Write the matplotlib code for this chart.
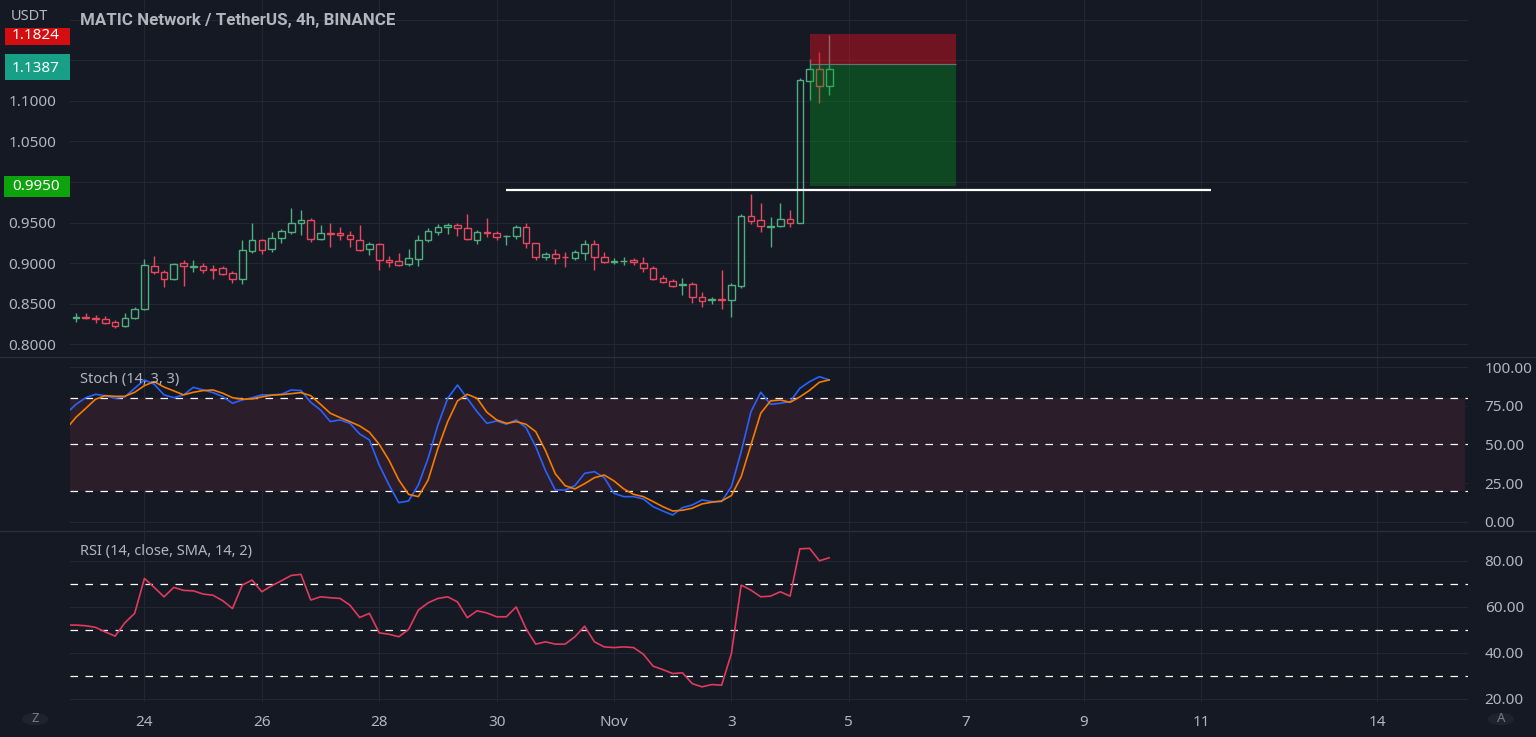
import matplotlib
matplotlib.use('Agg')
import matplotlib.pyplot as plt
import matplotlib.dates as mdates
from matplotlib.patches import Rectangle, Circle
from matplotlib.lines import Line2D
import pandas as pd

# ---------------- data ----------------
start = pd.Timestamp('2022-10-22 20:00')
times = pd.date_range(start, periods=78, freq='4h')
ind_times = pd.date_range(start - pd.Timedelta(hours=4), periods=79, freq='4h')

opens = [0.833, 0.8335, 0.832, 0.831, 0.827, 0.822, 0.833, 0.843, 0.897, 0.889,
         0.880, 0.900, 0.895, 0.897, 0.893, 0.8936, 0.8875, 0.8805, 0.915, 0.9285,
         0.917, 0.9306, 0.9387, 0.950, 0.953, 0.930, 0.937, 0.937, 0.935, 0.929,
         0.917, 0.923, 0.904, 0.9026, 0.899, 0.9055, 0.928, 0.939, 0.944, 0.947,
         0.943, 0.9285, 0.938, 0.9375, 0.933, 0.9334, 0.944, 0.9244, 0.907, 0.911,
         0.908, 0.906, 0.913, 0.9236, 0.907, 0.902, 0.9025, 0.904, 0.9006, 0.8936,
         0.882, 0.878, 0.873, 0.874, 0.858, 0.855, 0.856, 0.8546, 0.872, 0.958,
         0.953, 0.945, 0.946, 0.955, 0.950, 1.125, 1.139, 1.1186]
highs = [0.838, 0.839, 0.836, 0.835, 0.830, 0.838, 0.846, 0.905, 0.909, 0.891,
         0.900, 0.904, 0.904, 0.900, 0.8977, 0.897, 0.890, 0.928, 0.949, 0.930,
         0.938, 0.942, 0.968, 0.965, 0.956, 0.947, 0.949, 0.945, 0.940, 0.947,
         0.926, 0.925, 0.909, 0.912, 0.917, 0.935, 0.943, 0.948, 0.950, 0.949,
         0.9605, 0.941, 0.956, 0.940, 0.935, 0.947, 0.949, 0.925, 0.914, 0.917,
         0.914, 0.916, 0.929, 0.929, 0.914, 0.906, 0.907, 0.906, 0.908, 0.896,
         0.885, 0.880, 0.882, 0.877, 0.865, 0.858, 0.892, 0.875, 0.960, 0.985,
         0.9745, 0.957, 0.974, 0.966, 1.128, 1.151, 1.1605, 1.181]
lows = [0.827, 0.8315, 0.8265, 0.825, 0.820, 0.821, 0.831, 0.842, 0.887, 0.871,
        0.879, 0.872, 0.8887, 0.888, 0.880, 0.886, 0.876, 0.874, 0.913, 0.911,
        0.914, 0.925, 0.936, 0.935, 0.926, 0.928, 0.920, 0.928, 0.920, 0.915,
        0.910, 0.891, 0.895, 0.896, 0.897, 0.8965, 0.926, 0.935, 0.936, 0.934,
        0.928, 0.9236, 0.932, 0.929, 0.922, 0.930, 0.919, 0.904, 0.904, 0.899,
        0.895, 0.904, 0.904, 0.892, 0.900, 0.899, 0.898, 0.898, 0.889, 0.879,
        0.876, 0.871, 0.861, 0.851, 0.846, 0.850, 0.844, 0.834, 0.870, 0.948,
        0.9387, 0.920, 0.945, 0.945, 0.949, 1.101, 1.097, 1.107]
closes = [0.8335, 0.832, 0.831, 0.826, 0.822, 0.833, 0.843, 0.898, 0.889, 0.880,
          0.899, 0.896, 0.896, 0.8915, 0.892, 0.8866, 0.8805, 0.916, 0.9285, 0.916,
          0.9306, 0.9396, 0.950, 0.953, 0.930, 0.937, 0.936, 0.935, 0.9294, 0.916,
          0.923, 0.904, 0.902, 0.8977, 0.906, 0.928, 0.9396, 0.944, 0.947, 0.943,
          0.9294, 0.938, 0.937, 0.932, 0.934, 0.944, 0.9244, 0.908, 0.911, 0.906,
          0.907, 0.9133, 0.9236, 0.907, 0.901, 0.903, 0.903, 0.902, 0.8936, 0.8805,
          0.877, 0.872, 0.874, 0.858, 0.854, 0.856, 0.855, 0.8727, 0.958, 0.9523,
          0.946, 0.946, 0.955, 0.950, 1.126, 1.139, 1.1186, 1.1387]

stoch_k = [70.0,
           76.0, 80.3, 82.5, 81.6, 79.9, 80.8, 86.4, 91.8, 89.0, 82.1,
           80.3, 82.1, 87.0, 85.3, 83.6, 81.0, 76.7, 78.8, 80.3, 82.1,
           82.1, 82.5, 85.3, 84.9, 77.3, 72.3, 64.8, 65.9, 63.7, 56.8,
           52.9, 36.7, 23.8, 12.3, 13.4, 23.8, 41.1, 62.6, 79.9, 88.5,
           79.9, 71.2, 63.7, 65.2, 63.1, 65.9, 60.9, 48.6, 33.0, 20.5,
           20.5, 23.3, 31.3, 32.4, 28.5, 18.4, 16.2, 16.2, 14.7, 9.7,
           6.9, 4.3, 9.1, 10.8, 14.1, 13.0, 13.0, 22.7, 45.3, 71.2,
           83.8, 76.0, 76.7, 77.7, 86.4, 90.7, 93.9, 91.8]
stoch_d = [60.0,
           67.6, 73.4, 79.3, 81.6, 81.2, 81.2, 83.8, 88.1, 90.7, 87.2,
           84.7, 82.1, 83.8, 84.9, 85.3, 83.2, 80.3, 79.3, 79.5, 80.8,
           81.9, 82.3, 82.9, 83.6, 81.6, 76.0, 70.2, 67.4, 64.8, 62.0,
           57.9, 50.1, 39.8, 27.0, 17.7, 16.2, 27.0, 47.5, 64.8, 78.2,
           82.5, 79.9, 70.9, 65.9, 63.7, 64.8, 63.1, 58.3, 46.0, 31.0,
           23.3, 21.2, 24.6, 28.5, 30.2, 26.4, 21.2, 17.7, 16.2, 13.0,
           9.7, 6.9, 7.4, 8.7, 11.5, 12.6, 13.4, 16.9, 29.1, 49.7,
           70.2, 78.2, 78.8, 77.3, 80.8, 85.1, 90.3, 91.8]
rsi = [52.0,
       52.0, 51.7, 51.0, 49.0, 47.2, 53.0, 57.1, 72.3, 68.4, 64.3,
       68.4, 67.1, 66.9, 65.5, 65.0, 62.6, 59.2, 69.4, 71.6, 66.5,
       69.1, 71.3, 73.6, 74.1, 62.9, 64.3, 63.9, 63.6, 60.7, 55.3,
       57.1, 48.6, 48.0, 46.9, 50.1, 58.5, 61.7, 63.6, 64.3, 62.1,
       55.2, 58.2, 57.3, 55.6, 55.6, 59.9, 50.5, 43.7, 44.7, 43.7,
       43.7, 46.9, 51.5, 44.7, 42.5, 42.2, 42.5, 42.2, 39.3, 34.1,
       32.6, 30.9, 31.2, 26.5, 25.1, 26.1, 25.8, 39.6, 69.4, 67.2,
       64.3, 64.6, 66.5, 64.6, 85.2, 85.4, 80.0, 81.3]

# position tool & level
pos_start, pos_end = pd.Timestamp('2022-11-04 08:00'), pd.Timestamp('2022-11-06 20:00')
stop_price, entry_price, target_price = 1.1824, 1.1453, 0.9950
last_price = 1.1387
level_price = 0.990
level_start, level_end = pd.Timestamp('2022-10-30 04:00'), pd.Timestamp('2022-11-11 04:00')

tick_dates = ['2022-10-24', '2022-10-26', '2022-10-28', '2022-10-30', '2022-11-01',
              '2022-11-03', '2022-11-05', '2022-11-07', '2022-11-09', '2022-11-11', '2022-11-14']
tick_labels = ['24', '26', '28', '30', 'Nov', '3', '5', '7', '9', '11', '14']
price_ticks = [0.80, 0.85, 0.90, 0.95, 1.00, 1.05, 1.10, 1.15, 1.20]
price_tick_labels = ['0.8000', '0.8500', '0.9000', '0.9500', '', '1.0500', '1.1000', '', '']
stoch_ticks = [0, 25, 50, 75, 100]
rsi_ticks = [20, 40, 60, 80]

# ---------------- style ----------------
plt.rcParams['font.family'] = ['Noto Sans', 'DejaVu Sans']
BG = '#151924'
GRID = '#232733'
TXT = '#b2b5be'
UP = '#4fae7f'
DN = '#e8475e'

W, H = 1536, 737
fig = plt.figure(figsize=(W / 100, H / 100), dpi=100)
fig.patch.set_facecolor(BG)

def fx(px):
    return px / W

def fy(py):
    return 1 - py / H

X0, X1 = 70, 1468
ax_main = fig.add_axes([fx(X0), fy(357), fx(X1 - X0), 357 / H])
ax_st = fig.add_axes([fx(X0), fy(530), fx(X1 - X0), (530 - 358) / H])
ax_rsi = fig.add_axes([fx(X0), fy(702), fx(X1 - X0), (702 - 531) / H])

t0 = mdates.date2num(start)
xlim = (t0 - 0.61 / 6, t0 + 142.3 / 6)
tick_nums = [mdates.date2num(pd.Timestamp(d)) for d in tick_dates]

for ax in (ax_main, ax_st, ax_rsi):
    ax.set_facecolor(BG)
    for s in ax.spines.values():
        s.set_visible(False)
    ax.set_xlim(*xlim)
    ax.set_xticks(tick_nums)
    ax.tick_params(axis='both', length=0, colors=TXT, labelsize=11)
    ax.grid(True, color=GRID, lw=0.8)
    ax.set_axisbelow(True)

ax_main.set_xticklabels([])
ax_st.set_xticklabels([])
ax_rsi.set_xticklabels(tick_labels)
ax_rsi.tick_params(axis='x', pad=9)
for lbl in ax_rsi.get_xticklabels():
    if lbl.get_text() == 'Nov':
        lbl.set_fontweight('bold')

# ---------------- main candles ----------------
tn = mdates.date2num(times)
bw = 0.68 * 4 / 24
for t, o, h, l, c in zip(tn, opens, highs, lows, closes):
    col = UP if c >= o else DN
    lo_b, hi_b = min(o, c), max(o, c)
    ax_main.vlines(t, hi_b, h, color=col, lw=1, zorder=3)
    ax_main.vlines(t, l, lo_b, color=col, lw=1, zorder=3)
    ax_main.add_patch(Rectangle((t - bw / 2, lo_b), bw, max(hi_b - lo_b, 1e-5),
                                facecolor='none', edgecolor=col, lw=1, zorder=3))

ps, pe = mdates.date2num(pos_start), mdates.date2num(pos_end)
ax_main.add_patch(Rectangle((ps, entry_price), pe - ps, stop_price - entry_price,
                            facecolor='#e01020', alpha=0.45, lw=0, zorder=4))
ax_main.add_patch(Rectangle((ps, target_price), pe - ps, entry_price - target_price,
                            facecolor='#00a020', alpha=0.35, lw=0, zorder=4))
ax_main.hlines(entry_price, ps, pe, color='#6b6f7a', lw=0.8, zorder=4)
ax_main.hlines(level_price, mdates.date2num(level_start), mdates.date2num(level_end),
               color='white', lw=1.6, zorder=5)

ax_main.set_ylim(0.7844, 1.2242)
ax_main.set_yticks(price_ticks)
ax_main.set_yticklabels(price_tick_labels)
ax_main.tick_params(axis='y', pad=10, labelsize=11)

# ---------------- stochastic ----------------
itn = mdates.date2num(ind_times)
ax_st.set_ylim(-5.4, 106)
ax_st.axhspan(20, 80, xmax=0.998, color='#2b1d2a', zorder=1, lw=0)
for v in (80, 50, 20):
    ax_st.axhline(v, color='white', lw=0.9, dashes=(6, 6), zorder=2)
ax_st.plot(itn, stoch_k, color='#2962ff', lw=1.2, zorder=4)
ax_st.plot(itn, stoch_d, color='#f57c00', lw=1.2, zorder=4)
ax_st.yaxis.tick_right()
ax_st.set_yticks(stoch_ticks)
ax_st.set_yticklabels(['%.2f' % v for v in stoch_ticks])
ax_st.tick_params(axis='y', pad=12, labelsize=11)

# ---------------- RSI ----------------
ax_rsi.set_ylim(18.5, 92.96)
for v in (70, 50, 30):
    ax_rsi.axhline(v, color='white', lw=0.9, dashes=(6, 6), zorder=2)
ax_rsi.plot(itn, rsi, color='#e03a5c', lw=1.2, zorder=4)
ax_rsi.yaxis.tick_right()
ax_rsi.set_yticks(rsi_ticks)
ax_rsi.set_yticklabels(['%.2f' % v for v in rsi_ticks])
ax_rsi.tick_params(axis='y', pad=12, labelsize=11)

# ---------------- overlays ----------------
for yy in (357.5, 530.5):
    fig.add_artist(Line2D([0, 1], [fy(yy), fy(yy)], color='#2a2e39', lw=1))

def box(x0, y0, x1, y1, color):
    fig.add_artist(Rectangle((fx(x0), fy(y1)), fx(x1 - x0), (y1 - y0) / H,
                             facecolor=color, edgecolor='none', transform=fig.transFigure))

box(5, 24, 70, 45, '#d40d10')
fig.text(fx(12), fy(35.5), '%.4f' % stop_price, color='white', fontsize=11, va='center', ha='left')
box(0, 0, 70, 28, BG)
fig.text(fx(11), fy(16), 'USDT', color=TXT, fontsize=10.5, va='center', ha='left')
box(5, 54, 70, 80, '#17a085')
fig.text(fx(12), fy(68.5), '%.4f' % last_price, color='white', fontsize=11, va='center', ha='left')
box(4, 176, 70, 197, '#0ca30c')
fig.text(fx(12), fy(186.5), '%.4f' % target_price, color='white', fontsize=11, va='center', ha='left')

fig.text(fx(80), fy(20), 'MATIC Network / TetherUS, 4h, BINANCE', color=TXT,
         fontsize=12.2, fontweight='bold', family=['Roboto', 'DejaVu Sans'],
         va='center', ha='left')
fig.text(fx(80), fy(380), 'Stoch (14, 3, 3)', color=TXT, fontsize=10.5, va='center', ha='left')
fig.text(fx(80), fy(552), 'RSI (14, close, SMA, 14, 2)', color=TXT, fontsize=10.5,
         va='center', ha='left')

for cx, letter in ((35, 'Z'), (1501, 'A')):
    fig.add_artist(Circle((fx(cx), fy(719)), 13 / W, facecolor='#1f2330', edgecolor='none',
                          transform=fig.transFigure))
    fig.text(fx(cx), fy(719), letter, color='#787b86', fontsize=9.5, ha='center', va='center')

fig.savefig('out.png', dpi=100, facecolor=BG)
